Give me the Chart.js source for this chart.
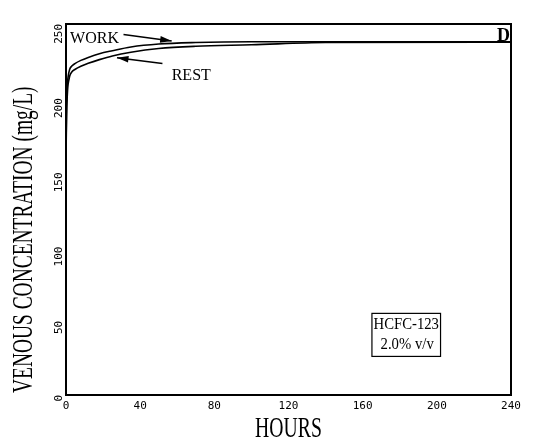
<!DOCTYPE html>
<html>
<head>
<meta charset="utf-8">
<script src="https://cdn.jsdelivr.net/npm/chart.js@4/dist/chart.umd.min.js"></script>
<style>
html,body{margin:0;padding:0;background:#fff;}
#wrap{width:540px;height:445px;}
</style>
</head>
<body>
<div id="wrap"><canvas id="c" width="540" height="445"></canvas></div>
<script>
// Data
const hours = [0, 0.3, 0.7, 1, 1.5, 2, 3, 5, 8, 12, 18, 25, 35, 50, 70, 100, 140, 240];
const workConc = [165, 195, 208, 213, 217, 219.5, 221.5, 223.5, 225.5, 227.5, 230, 232, 234.5, 236.5, 237.5, 238, 238, 238];
const restConc = [160, 188, 202, 208, 212, 215, 217.5, 219.5, 221.5, 223.5, 226, 228.5, 231, 233.5, 235, 236, 237.5, 237.8];
const xTicks = [0, 40, 80, 120, 160, 200, 240];
const yTicks = [0, 50, 100, 150, 200, 250];
const xTitle = 'HOURS';
const yTitle = 'VENOUS CONCENTRATION (mg/L)';

const toPts = (xs, ys) => xs.map((x, i) => ({x: x, y: ys[i]}));

const annot = {
  id: 'annot',
  afterDatasetsDraw(chart) {
    const {ctx, scales: {x, y}, chartArea} = chart;
    const X = v => x.getPixelForValue(v), Y = v => y.getPixelForValue(v);
    ctx.save();
    // frame top/right
    ctx.strokeStyle = '#000';
    ctx.lineWidth = 2;
    ctx.beginPath();
    ctx.moveTo(chartArea.left, chartArea.top);
    ctx.lineTo(chartArea.right, chartArea.top);
    ctx.lineTo(chartArea.right, chartArea.bottom);
    ctx.stroke();
    ctx.fillStyle = '#000';

    // condensed axis titles
    ctx.save();
    ctx.font = '29px "Liberation Serif", "DejaVu Serif", serif';
    ctx.textAlign = 'center';
    ctx.textBaseline = 'alphabetic';
    ctx.translate((chartArea.left + chartArea.right) / 2, 437);
    ctx.scale(0.68, 1);
    ctx.fillText(xTitle, 0, 0);
    ctx.restore();

    ctx.save();
    ctx.font = '29px "Liberation Serif", "DejaVu Serif", serif';
    ctx.textAlign = 'start';
    ctx.textBaseline = 'alphabetic';
    ctx.translate(32, chartArea.bottom - 2);
    ctx.rotate(-Math.PI / 2);
    ctx.scale(0.67, 1);
    ctx.fillText(yTitle, 0, 0);
    ctx.restore();

    ctx.font = '16px "Liberation Serif", "DejaVu Serif", serif';
    ctx.textBaseline = 'middle';
    ctx.textAlign = 'left';
    ctx.fillText('WORK', X(2.2), Y(240));
    ctx.fillText('REST', X(57), Y(215));
    ctx.font = 'bold 18px "Liberation Serif", serif';
    ctx.textAlign = 'right';
    ctx.fillText('D', chartArea.right - 1, Y(242));
    // arrows
    function arrow(x0, y0, x1, y1) {
      const px0 = X(x0), py0 = Y(y0), px1 = X(x1), py1 = Y(y1);
      ctx.lineWidth = 1.5;
      ctx.beginPath(); ctx.moveTo(px0, py0); ctx.lineTo(px1, py1); ctx.stroke();
      const a = Math.atan2(py1 - py0, px1 - px0), L = 12, W = 0.28;
      ctx.beginPath();
      ctx.moveTo(px1, py1);
      ctx.lineTo(px1 - L * Math.cos(a - W), py1 - L * Math.sin(a - W));
      ctx.lineTo(px1 - L * Math.cos(a + W), py1 - L * Math.sin(a + W));
      ctx.closePath(); ctx.fill();
    }
    arrow(31, 243, 57, 238.6);
    arrow(52, 223.4, 27.5, 227.2);
    // box
    const bx0 = X(165), bx1 = X(202), by0 = Y(55), by1 = Y(26);
    ctx.lineWidth = 1.2;
    ctx.strokeRect(bx0, by0, bx1 - bx0, by1 - by0);
    ctx.font = '16px "Liberation Serif", serif';
    ctx.textAlign = 'center';
    ctx.save();
    ctx.translate((bx0 + bx1) / 2, Y(47));
    ctx.scale(0.92, 1);
    ctx.fillText('HCFC-123', 0, 0);
    ctx.fillText('2.0% v/v', 1, Y(34) - Y(47));
    ctx.restore();
    ctx.restore();
  }
};

new Chart(document.getElementById('c'), {
  type: 'scatter',
  data: {
    datasets: [
      {label: 'WORK', data: toPts(hours, workConc), showLine: true, borderColor: '#000', borderWidth: 1.6, pointRadius: 0, cubicInterpolationMode: 'monotone'},
      {label: 'REST', data: toPts(hours, restConc), showLine: true, borderColor: '#000', borderWidth: 1.6, pointRadius: 0, cubicInterpolationMode: 'monotone'}
    ]
  },
  options: {
    responsive: false,
    animation: false,
    layout: {padding: {top: 24, right: 29, left: 0, bottom: 0}},
    plugins: {legend: {display: false}, tooltip: {enabled: false}},
    scales: {
      x: {
        type: 'linear', min: 0, max: 240,
        afterBuildTicks: s => { s.ticks = xTicks.map(v => ({value: v})); },
        afterFit: s => { s.height = 50; },
        grid: {display: false, drawTicks: true, tickLength: 4, tickColor: '#000'},
        border: {display: true, color: '#000', width: 2},
        ticks: {color: '#000', font: {family: '"DejaVu Sans Mono", monospace', size: 11}, padding: 1, maxRotation: 0},
        title: {display: false}
      },
      y: {
        type: 'linear', min: 0, max: 250,
        afterBuildTicks: s => { s.ticks = yTicks.map(v => ({value: v})); },
        afterFit: s => { s.width = 66; },
        grid: {display: false, drawTicks: true, tickLength: 4, tickColor: '#000'},
        border: {display: true, color: '#000', width: 2},
        ticks: {color: '#000', font: {family: '"DejaVu Sans Mono", monospace', size: 11}, padding: 3, minRotation: 90, maxRotation: 90},
        title: {display: false}
      }
    }
  },
  plugins: [annot]
});
</script>
</body>
</html>
